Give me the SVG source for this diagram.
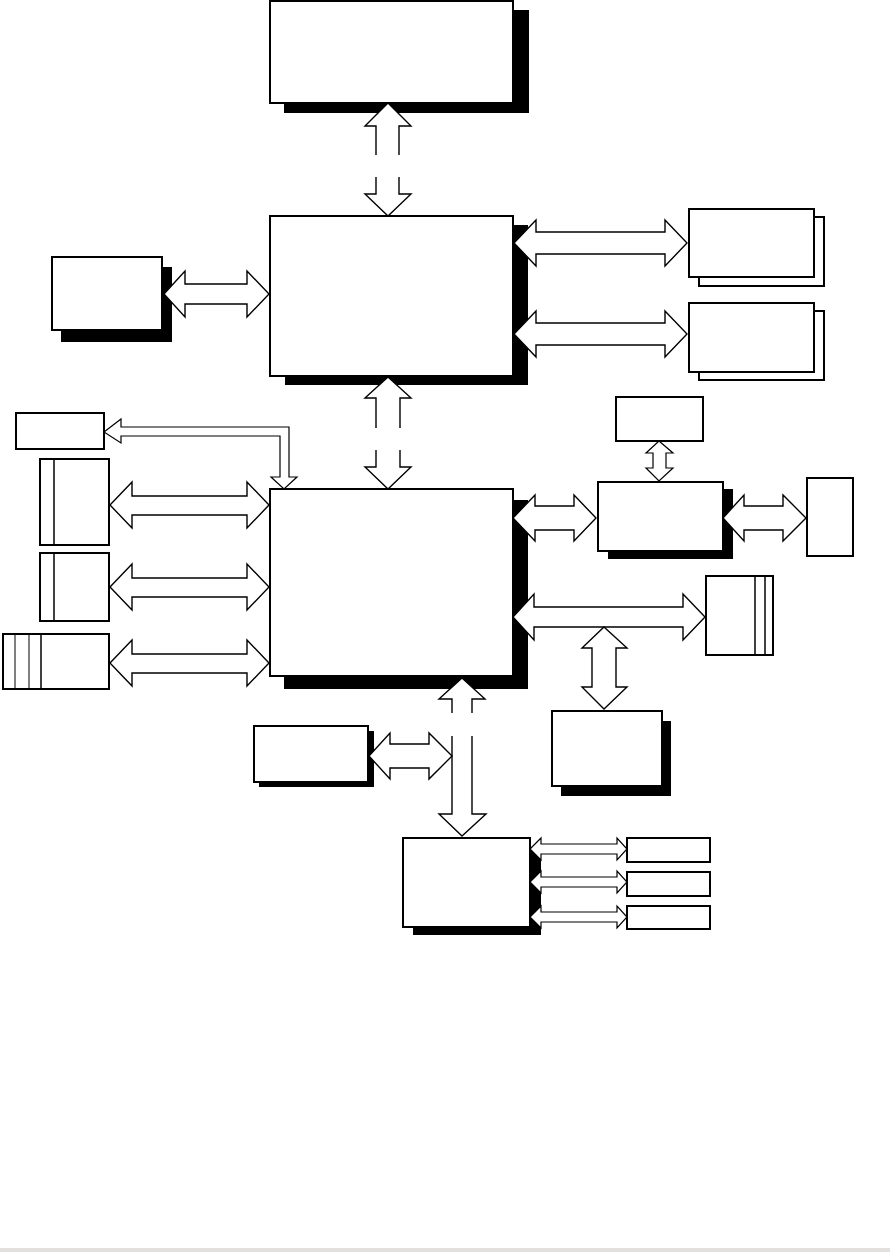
<svg xmlns="http://www.w3.org/2000/svg" width="890" height="1252" viewBox="0 0 890 1252">
<style>
.box{fill:#fff;stroke:#000;stroke-width:2}
.sh{fill:#000}
.div{stroke:#000;stroke-width:1.5}
.arr{fill:#fff;stroke:#000;stroke-width:1.4;stroke-linejoin:miter}
.thin{fill:#fff;stroke:#000;stroke-width:1.2}
.gap{fill:#fff}
</style>
<rect width="890" height="1252" fill="#fff"/>
<g id="top-box"><rect class="sh" x="284" y="10" width="245" height="103"/><rect class="box" x="270" y="1" width="243" height="102"/></g>
<g id="north-bridge"><rect class="sh" x="285" y="225" width="243" height="160"/><rect class="box" x="270" y="216" width="243" height="160"/></g>
<g id="left-box"><rect class="sh" x="61" y="267" width="111" height="75"/><rect class="box" x="52" y="257" width="110" height="73"/></g>
<g id="right-box-1"><rect class="box" x="699" y="217" width="125" height="69"/><rect class="box" x="689" y="209" width="125" height="68"/></g>
<g id="right-box-2"><rect class="box" x="699" y="311" width="125" height="69"/><rect class="box" x="689" y="303" width="125" height="69"/></g>
<g id="south-bridge"><rect class="sh" x="284" y="500" width="244" height="189"/><rect class="box" x="270" y="489" width="243" height="187"/></g>
<g id="small-left-box"><rect class="box" x="16" y="413" width="88" height="36"/></g>
<g id="slot-a"><rect class="box" x="40" y="459" width="69" height="86"/><line class="div" x1="54" y1="459" x2="54" y2="545"/></g>
<g id="slot-b"><rect class="box" x="40" y="553" width="69" height="68"/><line class="div" x1="54" y1="553" x2="54" y2="621"/></g>
<g id="slot-c"><rect class="box" x="3" y="634" width="106" height="55"/><line x1="15" y1="634" x2="15" y2="689" stroke="#000" stroke-width="1"/><line x1="29" y1="634" x2="29" y2="689" stroke="#000" stroke-width="1"/><line class="div" x1="41" y1="634" x2="41" y2="689" stroke-width="2"/></g>
<g id="small-top-box"><rect class="box" x="616" y="397" width="87" height="44"/></g>
<g id="middle-box"><rect class="sh" x="608" y="489" width="125" height="70"/><rect class="box" x="598" y="482" width="125" height="69"/></g>
<g id="tall-box"><rect class="box" x="807" y="478" width="46" height="78"/></g>
<g id="striped-box"><rect class="box" x="706" y="576" width="67" height="79"/><line class="div" x1="755" y1="576" x2="755" y2="655"/><line class="div" x1="765" y1="576" x2="765" y2="655"/></g>
<g id="bottom-right-box"><rect class="sh" x="561" y="721" width="110" height="75"/><rect class="box" x="552" y="711" width="110" height="75"/></g>
<g id="bottom-left-box"><rect class="sh" x="259" y="731" width="115" height="56"/><rect class="box" x="254" y="726" width="114" height="56"/></g>
<g id="bottom-box"><rect class="sh" x="413" y="848" width="128" height="87"/><rect class="box" x="403" y="838" width="127" height="89"/></g>
<g id="port-1"><rect class="box" x="627" y="838" width="83" height="24"/></g>
<g id="port-2"><rect class="box" x="627" y="872" width="83" height="24"/></g>
<g id="port-3"><rect class="box" x="627" y="906" width="83" height="23"/></g>
<g id="connectors">
<polygon class="arr" points="388,103 411,126 399,126 399,194 411,194 388,216 365,194 376,194 376,126 365,126"/>
<rect class="gap" x="372" y="155" width="31" height="22"/>
<polygon class="arr" points="388,377 411,398 400,398 400,467 411,467 388,489 365,467 376,467 376,398 365,398"/>
<rect class="gap" x="372" y="428" width="32" height="22"/>
<polygon class="arr" points="164,294 185,271 185,284 247,284 247,271 269,294 247,317 247,304 185,304 185,317"/>
<polygon class="arr" points="514,243 536,220 536,232 665,232 665,220 687,243 665,266 665,254 536,254 536,266"/>
<polygon class="arr" points="514,334 536,311 536,323 665,323 665,311 687,334 665,357 665,345 536,345 536,357"/>
<polygon class="thin" points="104,432 121,419 121,427 289,427 289,477 297,477 284,489 271,477 280,477 280,436 121,436 121,443"/>
<polygon class="arr" points="110,505 132,482 132,496 247,496 247,482 269,505 247,528 247,515 132,515 132,528"/>
<polygon class="arr" points="110,587 132,564 132,578 247,578 247,564 269,587 247,610 247,597 132,597 132,610"/>
<polygon class="arr" points="110,663 132,640 132,654 247,654 247,640 269,663 247,686 247,673 132,673 132,686"/>
<polygon class="thin" points="659,441 673,453 666,453 666,468 673,468 659,481 646,468 653,468 653,453 646,453"/>
<polygon class="arr" points="513,518 535,495 535,506 574,506 574,495 596,518 574,541 574,530 535,530 535,541"/>
<polygon class="arr" points="723,518 744,495 744,506 783,506 783,495 806,518 783,541 783,530 744,530 744,541"/>
<polygon class="arr" points="513,617 534,594 534,607 683,607 683,594 705,617 683,640 683,627 534,627 534,640"/>
<polygon class="arr" points="604,627 627,648 616,648 616,687 627,687 604,709 582,687 592,687 592,648 582,648"/>
<polygon class="arr" points="462,678 485,699 472,699 472,814 486,814 462,836 439,814 452,814 452,699 439,699"/>
<rect class="gap" x="450" y="713" width="24" height="23"/>
<polygon class="arr" points="369,756 390,733 390,744 429,744 429,733 452,756 429,779 429,768 390,768 390,779"/>
<polygon class="thin" points="530,849 541,838 541,844 617,844 617,838 627,849 617,860 617,854 541,854 541,860"/>
<polygon class="thin" points="530,882 541,871 541,877 617,877 617,871 627,882 617,893 617,887 541,887 541,893"/>
<polygon class="thin" points="530,917 541,906 541,912 617,912 617,906 627,917 617,928 617,922 541,922 541,928"/>
</g>
<rect x="0" y="1248" width="890" height="4" fill="#e2dfdf"/>
</svg>
